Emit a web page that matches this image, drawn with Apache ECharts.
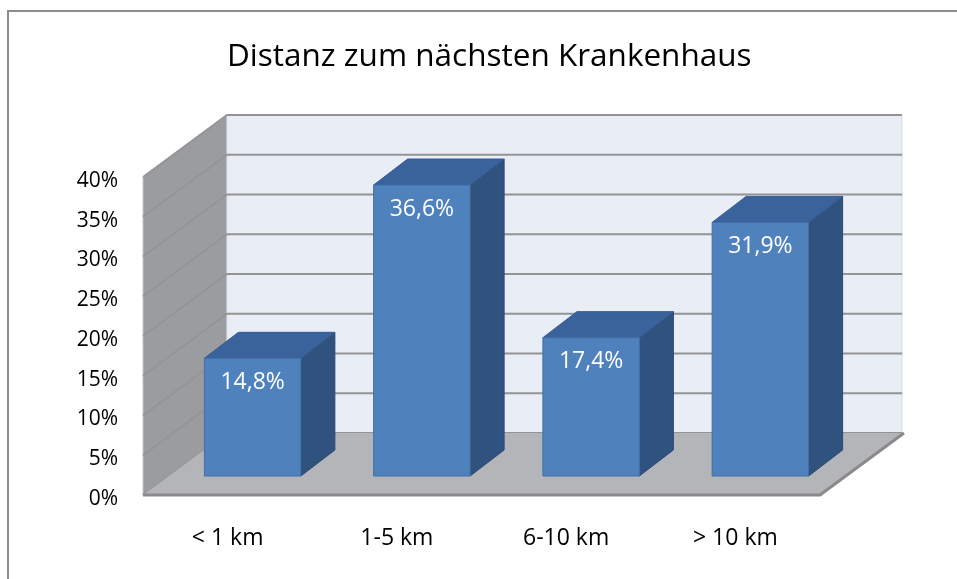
<!DOCTYPE html>
<html>
<head>
    <meta charset="utf-8">
    <title>Distanz zum nächsten Krankenhaus</title>
    <script type="text/javascript" src="https://cdn.jsdelivr.net/npm/echarts@6/dist/echarts.min.js"></script>
</head>
<body style="margin:0;">
    <div id="chart" style="width: 957px;height:579px;"></div>
</body>
<script type="text/javascript">
    // Daten
    var categories = ['< 1 km', '1-5 km', '6-10 km', '> 10 km'];
    var values = [0.148, 0.366, 0.174, 0.319];
    var valueLabels = ['14,8%', '36,6%', '17,4%', '31,9%'];
    var yTicks = [0, 0.05, 0.10, 0.15, 0.20, 0.25, 0.30, 0.35, 0.40];

    // 3D-Versatz (Pixel)
    var WALL_DX = 84, WALL_DY = -62;   // Tiefe von Boden/Seitenwand
    var BAR_FX = 25, BAR_FY = -19;     // Abstand Balken von vorne
    var BAR_DX = 34, BAR_DY = -26;     // Tiefe der Balken
    var FONT = '"Open Sans", "DejaVu Sans", sans-serif';

    function renderWalls(params, api) {
        var cs = params.coordSys;
        var left = cs.x, right = cs.x + cs.width;
        var y0 = api.coord([0, 0])[1];
        var yTop = api.coord([0, yTicks[yTicks.length - 1]])[1];
        var children = [];
        // Seitenwand
        children.push({
            type: 'polygon',
            shape: { points: [[left, yTop], [left + WALL_DX, yTop + WALL_DY], [left + WALL_DX, y0 + WALL_DY], [left, y0]] },
            style: { fill: '#9b9c9f', stroke: '#c4c5c8', lineWidth: 1 }
        });
        // Rückwand
        children.push({
            type: 'rect',
            shape: { x: left + WALL_DX, y: yTop + WALL_DY, width: right - left - 2, height: y0 - yTop },
            style: { fill: '#e9edf6', stroke: '#d8dce4', lineWidth: 1 }
        });
        // Gitterlinien
        yTicks.forEach(function (v) {
            var y = api.coord([0, v])[1];
            children.push({
                type: 'polyline',
                shape: { points: [[left, y], [left + WALL_DX, y + WALL_DY], [right - 2 + WALL_DX, y + WALL_DY]] },
                style: { fill: null, stroke: '#939496', lineWidth: 1.8 }
            });
        });
        // Boden
        children.push({
            type: 'polygon',
            shape: { points: [[left, y0], [right, y0], [right + WALL_DX, y0 + WALL_DY], [left + WALL_DX, y0 + WALL_DY]] },
            style: { fill: '#b4b5b8' }
        });
        children.push({
            type: 'polyline',
            shape: { points: [[left, y0], [right, y0], [right + WALL_DX, y0 + WALL_DY]] },
            style: { fill: null, stroke: '#8a8a8a', lineWidth: 3 }
        });
        return { type: 'group', children: children };
    }

    function renderBar(params, api) {
        var base = api.coord([api.value(0), 0]);
        var top = api.coord([api.value(0), api.value(1)]);
        var w = api.size([1, 0])[0] * 0.57;
        var x0 = base[0] - w / 2 + BAR_FX, x1 = x0 + w;
        var yb = base[1] + BAR_FY, yt = top[1] + BAR_FY;
        return {
            type: 'group',
            children: [
                {
                    type: 'polygon',
                    shape: { points: [[x1, yt], [x1 + BAR_DX, yt + BAR_DY], [x1 + BAR_DX, yb + BAR_DY], [x1, yb]] },
                    style: { fill: '#30527f', stroke: '#2b4a74', lineWidth: 1 }
                },
                {
                    type: 'polygon',
                    shape: { points: [[x0, yt], [x1, yt], [x1 + BAR_DX, yt + BAR_DY], [x0 + BAR_DX, yt + BAR_DY]] },
                    style: { fill: '#3a629b', stroke: '#355b91', lineWidth: 1 }
                },
                {
                    type: 'rect',
                    shape: { x: x0, y: yt, width: w, height: yb - yt },
                    style: { fill: '#4f81bd', stroke: '#416fa8', lineWidth: 1 }
                },
                {
                    type: 'text',
                    style: {
                        text: valueLabels[params.dataIndex],
                        x: x0 + w / 2, y: yt + 24,
                        align: 'center', verticalAlign: 'middle',
                        fill: '#ffffff', font: '23px ' + FONT
                    }
                }
            ]
        };
    }

    var chart = echarts.init(document.getElementById('chart'));
    chart.setOption({
        animation: false,
        backgroundColor: '#ffffff',
        title: {
            text: 'Distanz zum nächsten Krankenhaus',
            left: 222,
            top: 36,
            textStyle: { fontSize: 31.5, fontWeight: 'normal', color: '#000', fontFamily: FONT }
        },
        graphic: [{
            type: 'rect',
            shape: { x: 8, y: 11, width: 990, height: 620 },
            style: { fill: null, stroke: '#8c8c8c', lineWidth: 2 },
            silent: true
        }],
        grid: { left: 143, right: 137, top: 177, bottom: 84 },
        xAxis: {
            type: 'category',
            data: categories,
            axisLine: { show: false },
            axisTick: { show: false },
            axisLabel: { margin: 32, color: '#000', fontSize: 23, fontFamily: FONT }
        },
        yAxis: {
            type: 'value',
            min: 0,
            max: 0.4,
            interval: 0.05,
            axisLine: { show: false },
            axisTick: { show: false },
            splitLine: { show: false },
            axisLabel: {
                margin: 25, color: '#000', fontSize: 21, fontFamily: FONT,
                formatter: function (v) { return '{p|' + Math.round(v * 100) + '%}'; },
                rich: {
                    p: { fontSize: 21, fontFamily: FONT, color: '#000', padding: [8, 0, 0, 0] }
                }
            }
        },
        series: [
            {
                type: 'custom',
                z: 1,
                silent: true,
                renderItem: renderWalls,
                data: [[0, 0]]
            },
            {
                type: 'custom',
                z: 2,
                renderItem: renderBar,
                data: values.map(function (v, i) { return [i, v]; })
            }
        ]
    });
</script>
</html>
